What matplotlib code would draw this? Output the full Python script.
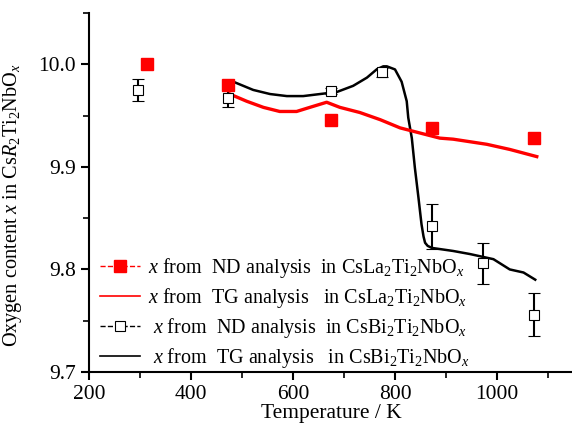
import matplotlib.pyplot as plt
from matplotlib.ticker import MultipleLocator, FormatStrFormatter

# ND points, CsLa2Ti2NbOx
la_nd_temp = [313, 473, 674, 872, 1073]
la_nd_x = [10.000, 9.980, 9.946, 9.938, 9.928]

# TG curve, CsLa2Ti2NbOx
la_tg_temp = [476, 509, 542, 574, 607, 633, 666, 692, 731, 771, 810, 849,
              888, 914, 980, 1025, 1078]
la_tg_x = [9.971, 9.964, 9.958, 9.954, 9.954, 9.958, 9.963, 9.958, 9.953,
           9.946, 9.938, 9.933, 9.928, 9.927, 9.922, 9.917, 9.910]

# ND points with error bars, CsBi2Ti2NbOx
bi_nd_temp = [296, 472, 674, 774, 873, 973, 1073]
bi_nd_x = [9.975, 9.967, 9.974, 9.992, 9.842, 9.806, 9.756]
bi_nd_err = [0.011, 0.009, 0.003, 0.004, 0.022, 0.020, 0.021]

# TG curve, CsBi2Ti2NbOx
bi_tg_temp = [483, 522, 555, 588, 620, 653, 686, 718, 745, 764, 777, 784,
              800, 813, 823, 826, 833, 839, 846, 852, 856, 859, 864, 872,
              914, 947, 993, 1025, 1052, 1075]
bi_tg_x = [9.983, 9.975, 9.971, 9.969, 9.969, 9.971, 9.973, 9.979, 9.987,
           9.995, 9.998, 9.998, 9.995, 9.983, 9.964, 9.948, 9.928, 9.899,
           9.870, 9.844, 9.832, 9.826, 9.823, 9.821, 9.818, 9.815, 9.810,
           9.800, 9.797, 9.790]

plt.rcParams['font.family'] = 'Liberation Serif'
plt.rcParams['mathtext.fontset'] = 'custom'
plt.rcParams['mathtext.rm'] = 'Liberation Serif'
plt.rcParams['mathtext.it'] = 'Liberation Serif:italic'

fig = plt.figure(figsize=(5.72, 4.25), dpi=100)
ax = fig.add_axes([0.1556, 0.1247, 0.847, 0.8447])

ax.plot(bi_tg_temp, bi_tg_x, color='black', lw=1.8, zorder=2)
ax.plot(la_tg_temp, la_tg_x, color='red', lw=2.4, zorder=2)
ax.errorbar(bi_nd_temp, bi_nd_x, yerr=bi_nd_err, fmt='s', color='black',
            mfc='white', mec='black', ms=7.5, mew=0.8, ecolor='black',
            elinewidth=1.5, capsize=4, capthick=1.5, zorder=3)
ax.plot(la_nd_temp, la_nd_x, 's', color='red', ms=8.5, zorder=4)

# legend handles
h1, = ax.plot([], [], color='red', ls='--', lw=1, marker='s', ms=8.5)
h2, = ax.plot([], [], color='red', lw=1.2)
h3, = ax.plot([], [], color='black', ls='--', lw=1, marker='s', ms=7.5,
              mfc='white', mew=0.8)
h4, = ax.plot([], [], color='black', lw=1.2)
labels = [r'$x$ from  ND analysis  in CsLa$_2$Ti$_2$NbO$_x$',
          r'$x$ from  TG analysis   in CsLa$_2$Ti$_2$NbO$_x$',
          r' $x$ from  ND analysis  in CsBi$_2$Ti$_2$NbO$_x$',
          r' $x$ from  TG analysis   in CsBi$_2$Ti$_2$NbO$_x$']
ax.legend([h1, h2, h3, h4], labels, loc='lower left',
          bbox_to_anchor=(-0.015, -0.045), frameon=False, fontsize=14.5,
          handlelength=2.0, handletextpad=0.4, labelspacing=0.3)

ax.set_xlim(200, 1150)
ax.set_ylim(9.7, 10.05)
ax.xaxis.set_major_locator(MultipleLocator(200))
ax.xaxis.set_minor_locator(MultipleLocator(100))
ax.yaxis.set_major_locator(MultipleLocator(0.1))
ax.yaxis.set_minor_locator(MultipleLocator(0.05))
ax.yaxis.set_major_formatter(FormatStrFormatter('%.1f'))

for side in ['top', 'right']:
    ax.spines[side].set_visible(False)
for side in ['left', 'bottom']:
    ax.spines[side].set_linewidth(1.5)
ax.tick_params(which='major', direction='out', length=6, width=1.5,
               labelsize=15.5)
ax.tick_params(which='minor', direction='out', length=4, width=1.2)

ax.set_xlabel('Temperature / K', fontsize=15.5, labelpad=0)
ax.set_ylabel(r'Oxygen content $x$ in Cs$R_2$Ti$_2$NbO$_x$', fontsize=14.6)
ax.yaxis.set_label_coords(-0.135, 0.465)

fig.savefig('out.png', dpi=100)
